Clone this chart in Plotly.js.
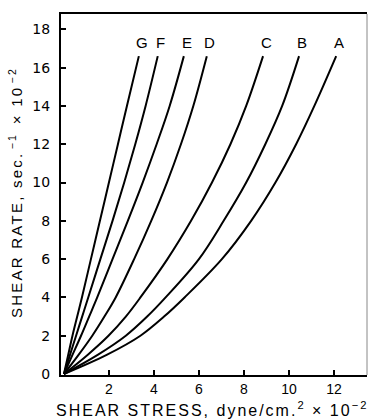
<!DOCTYPE html>
<html>
<head>
<meta charset="utf-8">
<script src="https://cdn.plot.ly/plotly-3.0.1.min.js"></script>
<style>
  html, body { margin: 0; padding: 0; background: #fff; }
  #chart { width: 370px; height: 420px; }
  /* loose tracking on the horizontal caption */
  text[data-unformatted^="SHEAR STRESS"] { letter-spacing: 2px; }
</style>
</head>
<body>
<div id="chart"></div>
<script>
// Shear rate levels (sec.^-1 x 10^-2) at which each flow curve was read
const shearRate = [0, 1, 2, 3, 4, 6, 8, 10, 12, 14, 16.6];

// Shear stress (dyne/cm.^2 x 10^-2) for each sample at those shear rates
const curveNames = ['A', 'B', 'C', 'D', 'E', 'F', 'G'];
const stressA = [0, 1.9, 3.4, 4.45, 5.36, 7.02, 8.32, 9.4, 10.32, 11.13, 12.1];
const stressB = [0, 1.5, 2.75, 3.7, 4.52, 6.0, 7.1, 8.1, 8.95, 9.7, 10.45];
const stressC = [0, 1.05, 1.98, 2.75, 3.4, 4.6, 5.65, 6.58, 7.4, 8.1, 8.85];
const stressD = [0, 0.65, 1.26, 1.8, 2.3, 3.12, 3.88, 4.58, 5.2, 5.75, 6.35];
const stressE = [0, 0.38, 0.76, 1.12, 1.48, 2.16, 2.84, 3.5, 4.12, 4.7, 5.33];
const stressF = [0, 0.27, 0.54, 0.81, 1.08, 1.62, 2.16, 2.68, 3.17, 3.63, 4.17];
const stressG = [0, 0.19, 0.38, 0.59, 0.8, 1.2, 1.6, 2.0, 2.4, 2.8, 3.33];

// Axis ticks
const xTickVals = [2, 4, 6, 8, 10, 12];
const yTickVals = [0, 2, 4, 6, 8, 10, 12, 14, 16, 18];

// Axis captions
const xCaption = 'SHEAR STRESS, dyne/cm.<sup>2</sup> × 10<sup>−2</sup>';
const yCaption = 'SHEAR RATE, sec.<sup>−1</sup> × 10<sup>−2</sup>';

const stressSeries = [stressA, stressB, stressC, stressD, stressE, stressF, stressG];

const SANS = 'Liberation Sans, Arial, sans-serif';
const WIDE = 'DejaVu Sans, sans-serif';

const traces = stressSeries.map((xs, i) => ({
  type: 'scatter',
  mode: 'lines',
  name: curveNames[i],
  x: xs,
  y: shearRate,
  line: { color: '#000', width: 2, shape: 'spline', smoothing: 1 },
  hoverinfo: 'skip'
}));

// Letter above the top end of each curve
const curveLabels = stressSeries.map((xs, i) => ({
  x: xs[xs.length - 1],
  y: shearRate[shearRate.length - 1],
  xref: 'x', yref: 'y',
  text: curveNames[i],
  showarrow: false,
  xshift: 3,
  yshift: 14,
  font: { family: SANS, size: 15, color: '#000' }
}));

const captions = [
  {
    text: xCaption,
    xref: 'paper', yref: 'paper',
    x: 0.495, y: -0.094,
    xanchor: 'center', yanchor: 'middle',
    showarrow: false,
    font: { family: SANS, size: 16, color: '#000' }
  },
  {
    text: yCaption,
    xref: 'paper', yref: 'paper',
    x: -0.15, y: 0.511,
    xanchor: 'center', yanchor: 'middle',
    textangle: -90,
    showarrow: false,
    font: { family: SANS, size: 15, color: '#000' }
  }
];

const layout = {
  width: 370,
  height: 420,
  margin: { l: 61, r: 3, t: 14, b: 45 },
  paper_bgcolor: '#fff',
  plot_bgcolor: '#fff',
  showlegend: false,
  font: { family: SANS, color: '#000' },
  xaxis: {
    range: [-0.13, 13.47],
    tickvals: xTickVals,
    ticks: 'inside',
    ticklen: 5,
    tickwidth: 2,
    tickcolor: '#000',
    showgrid: false,
    zeroline: false,
    showline: true,
    linecolor: '#000',
    linewidth: 2,
    mirror: true,
    tickfont: { family: SANS, size: 14, color: '#000' }
  },
  yaxis: {
    range: [-0.05, 18.8],
    tickvals: yTickVals,
    ticks: 'inside',
    ticklen: 5,
    tickwidth: 2,
    tickcolor: '#000',
    ticklabelstandoff: 6,
    showgrid: false,
    zeroline: false,
    showline: true,
    linecolor: '#000',
    linewidth: 2,
    tickfont: { family: WIDE, size: 14, color: '#000' }
  },
  shapes: [
    // faint right-hand frame edge
    { type: 'line', xref: 'paper', yref: 'paper', x0: 1, x1: 1, y0: 0, y1: 1,
      line: { color: '#888', width: 1 } }
  ],
  annotations: curveLabels.concat(captions)
};

// Spread the vertical caption's letters over a fixed run length (loose tracking),
// then slide its group so the run starts at the given height on the page.
function trackCaption(prefix, runLength, bottomAt) {
  const el = document.querySelector('text[data-unformatted^="' + prefix + '"]');
  if (!el) return;
  el.setAttribute('textLength', runLength);
  el.setAttribute('lengthAdjust', 'spacing');
  const box = el.getBoundingClientRect();
  const host = document.getElementById('chart').getBoundingClientRect();
  const dy = bottomAt - (box.bottom - host.top);
  const group = el.closest('g.annotation') || el.parentNode;
  group.setAttribute('transform', 'translate(0,' + dy + ')');
}

Plotly.newPlot('chart', traces, layout, { staticPlot: true, displayModeBar: false })
  .then(() => {
    trackCaption('SHEAR RATE', 251, 318);
  });
</script>
</body>
</html>
